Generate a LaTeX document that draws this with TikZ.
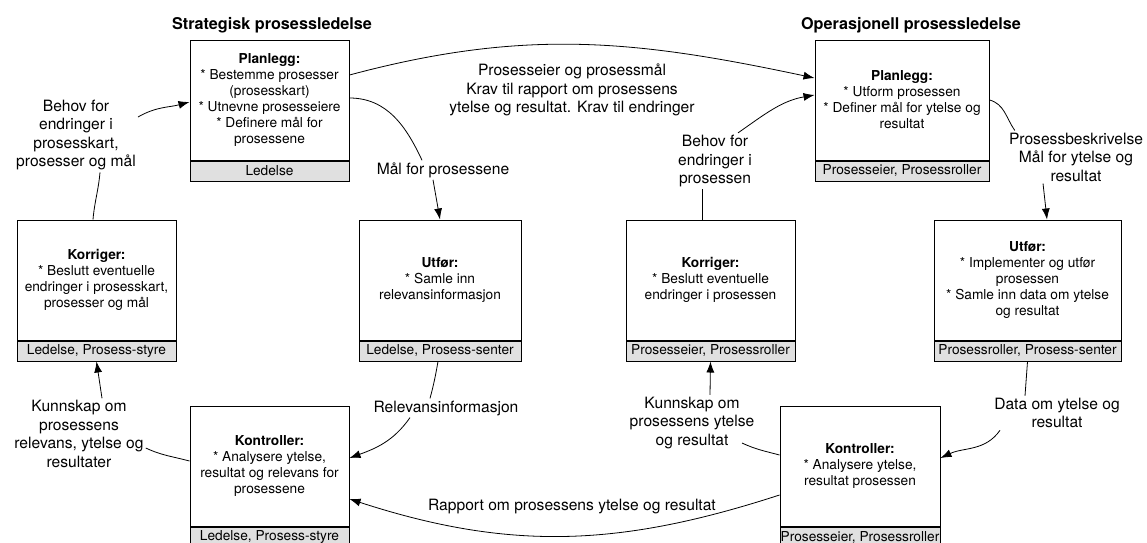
\documentclass[tikz,border=0pt]{standalone}
\usepackage{fontspec}
\setmainfont{TeX Gyre Heros}
\usetikzlibrary{positioning,arrows.meta}
\newcommand\boxtxt{\fontsize{13.7}{16}\selectfont}
\newcommand\lbltxt{\fontsize{15.6}{18.5}\selectfont}
\newcommand\hdtxt{\fontsize{16.2}{19}\selectfont\bfseries}
\begin{document}
\begin{tikzpicture}[x=1pt,y=1pt,
  task/.style={draw,line width=1pt,minimum height=120,align=center,font=\boxtxt,inner sep=1pt},
  role/.style={draw,line width=1pt,fill=black!12,minimum height=20,inner sep=0pt,font=\boxtxt},
  lbl/.style={align=center,font=\lbltxt,inner sep=2pt},
  flow/.style={line width=0.8pt},
  arr/.style={flow,-{Latex[length=11pt,width=8pt]}}]
\fill[white](0,0) rectangle (1147,-542);
\useasboundingbox (0,0) rectangle (1147,-542);
\node[font=\hdtxt] (hs) at (272,-25) {Strategisk prosessledelse};
\node[font=\hdtxt] (ho) at (911,-25) {Operasjonell prosessledelse};
\node[task,minimum width=159] (sp) at (269.5,-100) {\textbf{Planlegg:}\\* Bestemme prosesser\\(prosesskart)\\* Utnevne prosesseiere\\* Definere mål for\\prosessene};
\node[role,minimum width=159,below=0pt of sp] (spr) {Ledelse};
\node[task,minimum width=159] (sk) at (96.5,-280) {\textbf{Korriger:}\\* Beslutt eventuelle\\endringer i prosesskart,\\prosesser og mål};
\node[role,minimum width=159,below=0pt of sk] (skr) {Ledelse, Prosess-styre};
\node[task,minimum width=162] (su) at (440,-280) {\textbf{Utfør:}\\* Samle inn\\relevansinformasjon};
\node[role,minimum width=162,below=0pt of su] (sur) {Ledelse, Prosess-senter};
\node[task,minimum width=159] (sc) at (269.5,-466) {\textbf{Kontroller:}\\* Analysere ytelse,\\resultat og relevans for\\prosessene};
\node[role,minimum width=159,below=0pt of sc] (scr) {Ledelse, Prosess-styre};
\node[task,minimum width=174] (op) at (902,-100) {\textbf{Planlegg:}\\* Utform prosessen\\* Definer mål for ytelse og\\resultat};
\node[role,minimum width=174,below=0pt of op] (opr) {Prosesseier, Prosessroller};
\node[task,minimum width=169] (ok) at (710.5,-280) {\textbf{Korriger:}\\* Beslutt eventuelle\\endringer i prosessen};
\node[role,minimum width=169,below=0pt of ok] (okr) {Prosesseier, Prosessroller};
\node[task,minimum width=187] (ou) at (1027.5,-280) {\textbf{Utfør:}\\* Implementer og utfør\\prosessen\\* Samle inn data om ytelse\\og resultat};
\node[role,minimum width=187,below=0pt of ou] (our) {Prosessroller, Prosess-senter};
\node[task,minimum width=160] (oc) at (860,-466) {\textbf{Kontroller:}\\* Analysere ytelse,\\resultat prosessen};
\node[role,minimum width=160,below=0pt of oc] (ocr) {Prosesseier, Prosessroller};
\node[lbl] (l1) at (76,-135) {Behov for\\endringer i\\prosesskart,\\prosesser og mål};
\node[lbl] (l2) at (572,-90) {Prosesseier og prosessmål\\Krav til rapport om prosessens\\ytelse og resultat. Krav til endringer};
\node[lbl] (l3) at (443,-170) {Mål for prosessene};
\node[lbl] (l4) at (446,-408) {Relevansinformasjon};
\node[lbl] (l5) at (79,-434) {Kunnskap om\\prosessens\\relevans, ytelse og\\resultater};
\node[lbl] (l6) at (572,-507) {Rapport om prosessens ytelse og resultat};
\node[lbl] (l7) at (715,-161) {Behov for\\endringer i\\prosessen};
\node[lbl] (l8) at (1076,-157) {Prosessbeskrivelse\\Mål for ytelse og\\resultat};
\node[lbl] (l9) at (1057,-413) {Data om ytelse og\\resultat};
\node[lbl] (l10) at (692,-423) {Kunnskap om\\prosessens ytelse\\og resultat};
\draw[flow]([xshift=-3.5pt]sk.north) to[out=85,in=-95] ([xshift=24pt]l1.south);
\draw[arr]([yshift=18pt]l1.east) to[out=30,in=195] ([yshift=-2pt]sp.west);
\draw[arr]([yshift=25pt]sp.east) to[out=15,in=168] ([yshift=22pt]op.west);
\draw[flow]([yshift=2pt]sp.east) to[out=0,in=115] ([xshift=-21pt]l3.north);
\draw[arr]([xshift=-10pt]l3.south) -- (su.north);
\draw[flow]([xshift=-2pt]sur.south) to[out=-100,in=75] ([xshift=-16pt]l4.north);
\draw[arr]([xshift=-36pt]l4.south) to[out=-125,in=20] ([yshift=8pt]sc.east);
\draw[arr]([yshift=-29pt]oc.west) to[out=198,in=-18] ([yshift=-33pt]sc.east);
\draw[flow]([yshift=5pt]sc.west) to[out=165,in=-25] ([yshift=-14pt]l5.east);
\draw[arr]([xshift=23pt]l5.north) -- (skr.south);
\draw[arr]([xshift=23pt]l7.north) to[out=35,in=190] ([yshift=5pt]op.west);
\draw[flow]([xshift=-8.5pt]ok.north) -- ([xshift=-13pt]l7.south);
\draw[arr]([xshift=18pt]l10.north) -- (okr.south);
\draw[flow]([yshift=11pt]oc.west) to[out=165,in=-25] ([xshift=50pt,yshift=-20pt]l10.center);
\draw[flow](op.east) to[out=-15,in=125] ([xshift=8pt]l8.north west);
\draw[arr]([xshift=-33pt]l8.south) -- ([xshift=19.5pt]ou.north);
\draw[flow](our.south) -- ([xshift=-32pt]l9.north);
\draw[arr]([xshift=-57pt]l9.south) to[out=-125,in=25] ([yshift=8pt]oc.east);
\end{tikzpicture}
\end{document}
